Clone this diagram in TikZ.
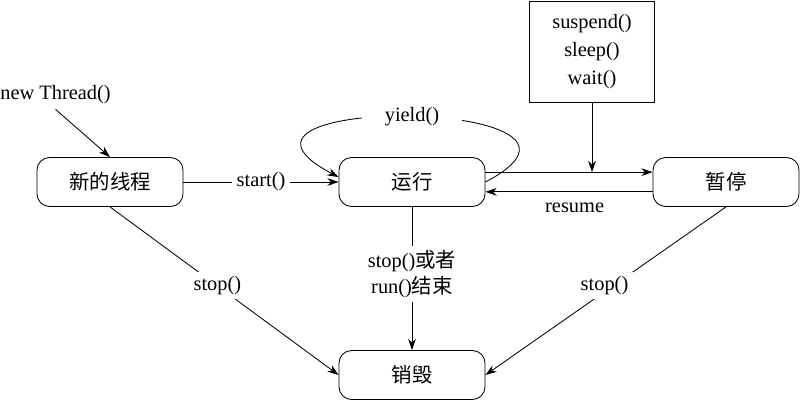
\documentclass[tikz,border=0pt]{standalone}
\usepackage{fontspec}
\setmainfont{Liberation Serif}
\newfontfamily\cjk{Noto Sans CJK SC}
\usetikzlibrary{arrows.meta}

\begin{document}
\begin{tikzpicture}[x=0.025cm, y=-0.025cm,
		font=\fontsize{14.5}{20}\selectfont,
		line width=0.6pt,
		>={Stealth[length=8pt, width=5.5pt]},
		state/.style={draw, rounded corners=9pt, minimum width=3.65cm, minimum height=1.225cm, inner sep=0pt},
		lbl/.style={fill=white, inner sep=3pt}
	]
		\useasboundingbox (0,0) rectangle (800,400);
		% states
		\node [state] (new) at (110,182) {\cjk 新的线程};
		\node [state] (run) at (412,182) {\cjk 运行};
		\node [state] (pause) at (726,182) {\cjk 暂停};
		\node [state] (dead) at (412,375) {\cjk 销毁};
		\node [draw, minimum width=3.125cm, minimum height=2.525cm, align=center] (susp) at (592,51.5) {suspend()\\sleep()\\wait()};
		\node (nt) at (55.5,95) {new Thread()};
		\coordinate (up) at ([yshift=7pt]run.east);
		%
		\draw [->] (nt.south) -- (new.north);
		\draw [->] (new) -- node [lbl] {start()} (run);
		\draw [->] (up) -- ([yshift=7pt]pause.west);
		\draw [->] ([yshift=-7pt]pause.west) -- node [below=4pt, xshift=4pt] {resume} ([yshift=-7pt]run.east);
		\draw [->] (susp.south) -- (susp.south |- up);
		\draw [->] (run.east) .. controls +(160,-84) and +(-160,-84) .. ([yshift=3.5pt]run.west) node [lbl, inner xsep=16pt, pos=0.5] {yield()};
		%
		\draw [->] (new.south) -- node [lbl, pos=0.47] {stop()} (dead.west);
		\draw [->] (run.south) -- node [lbl, pos=0.47, align=center, font=\fontsize{14.5}{18.5}\selectfont] {stop(){\cjk 或者}\\run(){\cjk 结束}} (dead.north);
		\draw [->] (pause.south) -- node [lbl, pos=0.47, xshift=-6pt] {stop()} (dead.east);
	\end{tikzpicture}
\end{document}
